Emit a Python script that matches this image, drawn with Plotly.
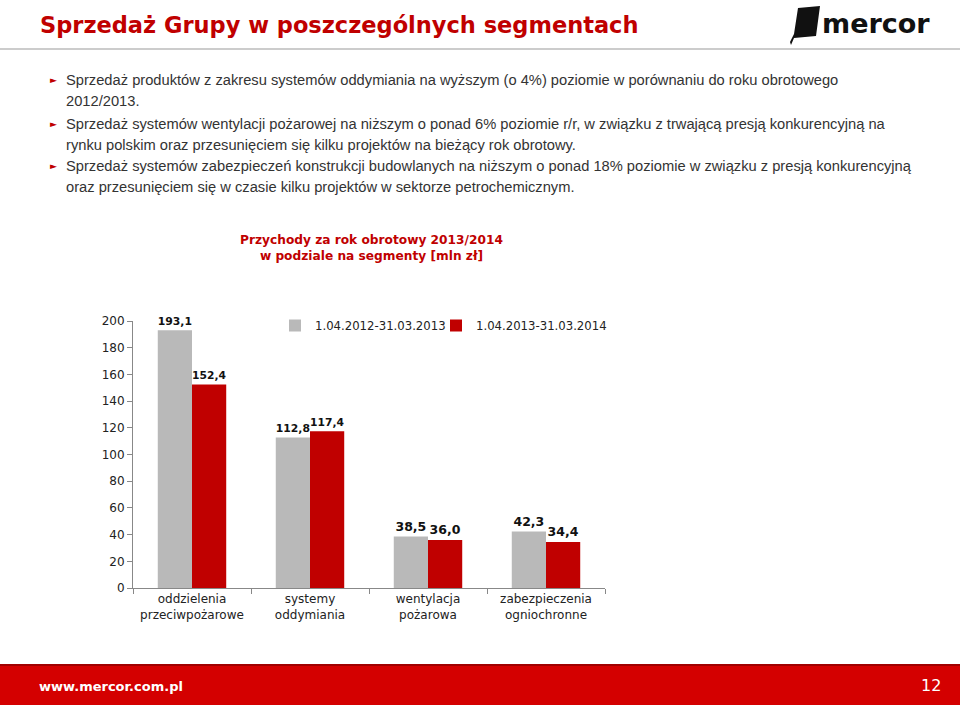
import plotly.graph_objects as go

categories = ["oddzielenia<br>przeciwpożarowe", "systemy<br>oddymiania", "wentylacja<br>pożarowa", "zabezpieczenia<br>ogniochronne"]
series_names = ["1.04.2012-31.03.2013", "1.04.2013-31.03.2014"]
values_2013 = [193.1, 112.8, 38.5, 42.3]
values_2014 = [152.4, 117.4, 36.0, 34.4]
y_ticks = [0, 20, 40, 60, 80, 100, 120, 140, 160, 180, 200]

title = "Sprzedaż Grupy w poszczególnych segmentach"
bullets = [
    ["Sprzedaż produktów z zakresu systemów oddymiania na wyższym (o 4%) poziomie w porównaniu do roku obrotowego",
     "2012/2013."],
    ["Sprzedaż systemów wentylacji pożarowej na niższym o ponad 6% poziomie r/r, w związku z trwającą presją konkurencyjną na",
     "rynku polskim oraz przesunięciem się kilku projektów na bieżący rok obrotowy."],
    ["Sprzedaż systemów zabezpieczeń konstrukcji budowlanych na niższym o ponad 18% poziomie w związku z presją konkurencyjną",
     "oraz przesunięciem się w czasie kilku projektów w sektorze petrochemicznym."],
]
chart_title = "Przychody za rok obrotowy 2013/2014<br>w podziale na segmenty [mln zł]"

W, H = 960, 705
FONT = "DejaVu Sans"
GRAY = "#B9B9B9"
RED = "#C00000"

def fmt(v):
    return f"<b>{v:.1f}</b>".replace(".", ",")

def px_x(x):
    return x / W

def px_y(y):
    return 1 - (y - 7) / 691

fig = go.Figure()
fig.add_trace(go.Bar(
    x=categories, y=values_2013, name=series_names[0], legend="legend",
    marker=dict(color=GRAY, line=dict(width=0)),
    text=[fmt(v) for v in values_2013], textposition="outside", cliponaxis=False,
    textfont=dict(family=FONT, size=12.5, color="#111"),
))
fig.add_trace(go.Bar(
    x=categories, y=values_2014, name=series_names[1], legend="legend2",
    marker=dict(color=RED, line=dict(width=0)),
    text=[fmt(v) for v in values_2014], textposition="outside", cliponaxis=False,
    textfont=dict(family=FONT, size=12.5, color="#111"),
))

y0_px, y200_px = 588, 321
leg_common = dict(orientation="h", y=px_y(311), xanchor="left", yanchor="top",
                  font=dict(family=FONT, size=11.7, color="#222"), bgcolor="rgba(0,0,0,0)")
fig.update_layout(
    width=W, height=H, margin=dict(l=0, r=0, t=0, b=0),
    paper_bgcolor="white", plot_bgcolor="white",
    barmode="group", bargap=0.42, bargroupgap=0,
    font=dict(family=FONT, size=12, color="#222"),
    showlegend=True,
    legend=dict(x=px_x(275), **leg_common),
    legend2=dict(x=px_x(436), **leg_common),
    xaxis=dict(domain=[px_x(133), px_x(605)], showline=True, linecolor="#888", linewidth=1,
               ticks="outside", tickson="boundaries", ticklen=5, tickcolor="#888",
               tickfont=dict(family=FONT, size=12, color="#222"), showgrid=False),
    yaxis=dict(domain=[px_y(y0_px), px_y(y200_px)], range=[0, 200], tickvals=y_ticks,
               showline=True, linecolor="#888", linewidth=1, ticks="outside", ticklen=5,
               tickcolor="#888", showgrid=False, zeroline=False,
               tickfont=dict(family=FONT, size=12, color="#222")),
)

shapes = []
annotations = []
# header line
shapes.append(dict(type="line", xref="paper", yref="paper", x0=0, x1=1, y0=px_y(49), y1=px_y(49),
                   line=dict(color="#CCCCCC", width=2)))
# footer band
shapes.append(dict(type="rect", xref="paper", yref="paper", x0=0, x1=1, y0=px_y(720), y1=px_y(665),
                   fillcolor="#D40000", line=dict(width=0), layer="below"))
shapes.append(dict(type="line", xref="paper", yref="paper", x0=0, x1=1, y0=px_y(665), y1=px_y(665),
                   line=dict(color="#A00000", width=2)))
# logo leaf
lx, ly = 790, 6
leaf = (f"M {px_x(lx+8)} {px_y(ly+2)} L {px_x(lx+30)} {px_y(ly)} L {px_x(lx+26)} {px_y(ly+30)} "
        f"L {px_x(lx+4)} {px_y(ly+32)} L {px_x(lx+1)} {px_y(ly+39)} L {px_x(lx)} {px_y(ly+36)} "
        f"L {px_x(lx+4)} {px_y(ly+28)} Z")
shapes.append(dict(type="path", xref="paper", yref="paper", path=leaf, fillcolor="#111", line=dict(width=0)))
annotations.append(dict(text="<b>mercor</b>", x=px_x(820), y=px_y(24), xref="paper", yref="paper",
                        xanchor="left", yanchor="middle", showarrow=False,
                        font=dict(family=FONT, size=27, color="#111")))

# title
annotations.append(dict(text=f"<b>{title}</b>", x=px_x(38), y=px_y(25), xref="paper", yref="paper",
                        xanchor="left", yanchor="middle", showarrow=False,
                        font=dict(family=FONT, size=22.5, color="#C00000")))

# bullets
line_ys = [[80, 101], [124, 145], [166, 187]]
for b, ys in zip(bullets, line_ys):
    annotations.append(dict(text="►", x=px_x(48), y=px_y(ys[0]), xref="paper", yref="paper",
                            xanchor="left", yanchor="middle", showarrow=False,
                            font=dict(family=FONT, size=9, color="#C00000")))
    for t, yy in zip(b, ys):
        annotations.append(dict(text=t, x=px_x(64), y=px_y(yy), xref="paper", yref="paper",
                                xanchor="left", yanchor="middle", showarrow=False,
                                font=dict(family="Liberation Sans", size=14.7, color="#333")))

# chart title
annotations.append(dict(text=f"<b>{chart_title}</b>", x=px_x(371), y=px_y(248), xref="paper", yref="paper",
                        xanchor="center", yanchor="middle", showarrow=False,
                        font=dict(family=FONT, size=12.2, color="#C00000")))

# footer texts
annotations.append(dict(text="<b>www.mercor.com.pl</b>", x=px_x(37), y=px_y(686), xref="paper", yref="paper",
                        xanchor="left", yanchor="middle", showarrow=False,
                        font=dict(family=FONT, size=13, color="white")))
annotations.append(dict(text="12", x=px_x(943), y=px_y(685), xref="paper", yref="paper",
                        xanchor="right", yanchor="middle", showarrow=False,
                        font=dict(family=FONT, size=16, color="white")))

fig.update_layout(shapes=shapes, annotations=annotations)
fig.write_html("out.html", config={"displayModeBar": False},
               post_script="document.body.style.margin='0';document.body.style.overflow='hidden';")
